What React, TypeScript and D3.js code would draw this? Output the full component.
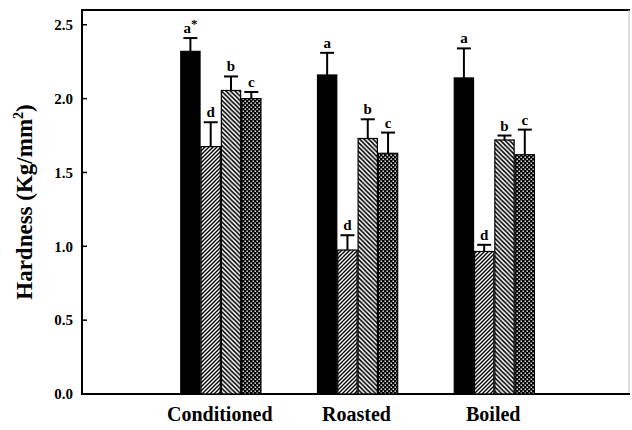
import React from "react";
import * as d3 from "d3";

const groups = ["Conditioned", "Roasted", "Boiled"];
const seriesIds = ["solid", "fwd", "back", "dots"];

// mean hardness and SD per series (one value per group)
const solidMean = [2.32, 2.16, 2.14];
const solidErr = [0.09, 0.15, 0.2];
const fwdMean = [1.675, 0.975, 0.965];
const fwdErr = [0.165, 0.1, 0.045];
const backMean = [2.055, 1.73, 1.72];
const backErr = [0.095, 0.13, 0.03];
const dotsMean = [2.0, 1.63, 1.62];
const dotsErr = [0.045, 0.14, 0.17];

const solidLetters = ["a*", "a", "a"];
const fwdLetters = ["d", "d", "d"];
const backLetters = ["b", "b", "b"];
const dotsLetters = ["c", "c", "c"];

const yTicks = [0, 0.5, 1.0, 1.5, 2.0, 2.5];

const means = [solidMean, fwdMean, backMean, dotsMean];
const errs = [solidErr, fwdErr, backErr, dotsErr];
const letters = [solidLetters, fwdLetters, backLetters, dotsLetters];

const W = 632;
const H = 430;
const margin = { top: 10, right: 2, bottom: 36, left: 82 };
const font = "'Liberation Serif', 'Times New Roman', serif";

const fills = ["#000", "url(#fwd)", "url(#back)", "url(#dots)"];

export default function App() {
  const x = d3
    .scaleLinear()
    .domain([0, 4])
    .range([margin.left + 1, W - margin.right]);
  const y = d3
    .scaleLinear()
    .domain([0, 2.6])
    .range([H - margin.bottom, margin.top]);

  const step = 20.3;
  const barW = 19.3;

  return (
    <svg
      width={W}
      height={H}
      style={{ position: "absolute", left: 0, top: 0, background: "#fff" }}
      fontFamily={font}
    >
      <defs>
        <pattern id="fwd" width="4" height="4" patternUnits="userSpaceOnUse">
          <rect width="4" height="4" fill="#fff" />
          <path d="M-1,1 l2,-2 M0,4 l4,-4 M3,5 l2,-2" stroke="#000" strokeWidth="1.4" />
        </pattern>
        <pattern id="back" width="4.5" height="4.5" patternUnits="userSpaceOnUse">
          <rect width="4.5" height="4.5" fill="#fff" />
          <path d="M-1,3.5 l2,2 M0,0 l4.5,4.5 M3.5,-1 l2,2" stroke="#000" strokeWidth="1.6" />
        </pattern>
        <pattern id="dots" width="4" height="4" patternUnits="userSpaceOnUse">
          <rect width="4" height="4" fill="#000" />
          <rect x="0.5" y="0.5" width="1.4" height="1.4" fill="#fff" />
          <rect x="2.5" y="2.5" width="1.4" height="1.4" fill="#fff" />
        </pattern>
      </defs>

      {/* frame */}
      <line x1={margin.left} x2={W - margin.right} y1={y(2.6)} y2={y(2.6)} stroke="#000" strokeWidth={2} />
      <line x1={W - margin.right - 1} x2={W - margin.right - 1} y1={y(2.6)} y2={y(0)} stroke="#bbb" strokeWidth={1} />
      <line x1={margin.left} x2={margin.left} y1={y(2.6) - 1} y2={y(0) + 1} stroke="#000" strokeWidth={2} />
      <line x1={margin.left} x2={W - margin.right} y1={y(0)} y2={y(0)} stroke="#000" strokeWidth={2} />

      {/* y ticks */}
      {yTicks.map((t) => (
        <g key={t}>
          <line x1={margin.left} x2={margin.left + 5} y1={y(t)} y2={y(t)} stroke="#000" strokeWidth={1.5} />
          <text
            x={margin.left - 9}
            y={y(t)}
            dy="0.35em"
            textAnchor="end"
            fontSize={15}
            fontWeight="bold"
          >
            {t.toFixed(1)}
          </text>
        </g>
      ))}

      {/* y title */}
      <text
        transform={`translate(32,${(y(0) + y(2.6)) / 2}) rotate(-90)`}
        textAnchor="middle"
        fontSize={23}
        fontWeight="bold"
      >
        Hardness (Kg/mm<tspan dy="-9" fontSize={14}>2</tspan>
        <tspan dy="9">)</tspan>
      </text>

      {/* bars */}
      {groups.map((g, gi) => {
        const cx = x(gi + 1) + 1;
        return (
          <g key={g}>
            {seriesIds.map((s, si) => {
              const left = cx - 40 + si * step;
              const mid = left + barW / 2;
              const v = means[si][gi];
              const e = errs[si][gi];
              return (
                <g key={s}>
                  <rect
                    x={left}
                    y={y(v)}
                    width={barW}
                    height={y(0) - y(v)}
                    fill={fills[si]}
                    stroke="#000"
                    strokeWidth={1.2}
                  />
                  <line x1={mid} x2={mid} y1={y(v)} y2={y(v + e)} stroke="#000" strokeWidth={2} />
                  <line x1={mid - 7} x2={mid + 7} y1={y(v + e)} y2={y(v + e)} stroke="#000" strokeWidth={2} />
                  <text
                    x={mid}
                    y={y(v + e) - 5}
                    textAnchor="middle"
                    fontSize={15}
                    fontWeight="bold"
                  >
                    {letters[si][gi].replace("*", "")}
                    {letters[si][gi].includes("*") && (
                      <tspan dy="-5" fontSize={13}>*</tspan>
                    )}
                  </text>
                </g>
              );
            })}
            <text
              x={cx - 1}
              y={H - 9}
              textAnchor="middle"
              fontSize={20}
              fontWeight="bold"
            >
              {g}
            </text>
          </g>
        );
      })}
    </svg>
  );
}
